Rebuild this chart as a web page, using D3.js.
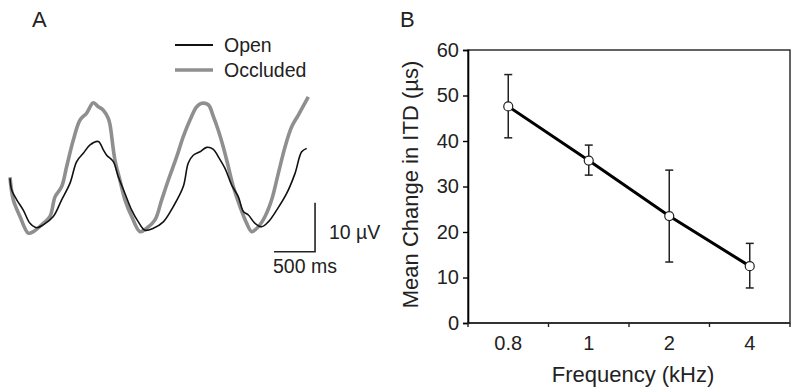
<!DOCTYPE html>
<html>
<head>
<meta charset="utf-8">
<script src="https://cdn.jsdelivr.net/npm/d3@7"></script>
<style>
  body { margin: 0; background: #fff; }
  svg text { font-family: 'Liberation Sans', Arial, sans-serif; fill: #222; }
</style>
</head>
<body>
<div class="canvas"></div>
<script>
// Panel A traces: time (ms) and voltage (µV)
const openT = [0, 21, 82, 162, 244, 326, 406, 528, 630, 732, 813, 894, 976, 1077, 1138, 1179, 1260, 1321, 1402, 1484, 1565, 1646, 1748, 1870, 1991, 2113, 2174, 2235, 2317, 2399, 2480, 2540, 2622, 2704, 2785, 2846, 2907, 2988, 3069, 3150, 3252, 3374, 3476, 3557, 3618]
const openV = [12.6, 10.2, 8.2, 6.1, 3.4, 2.5, 3.1, 4.8, 8.2, 11.6, 16.0, 17.7, 19.4, 20.1, 18.4, 17.3, 16.0, 12.9, 9.5, 6.1, 3.7, 2.0, 2.4, 3.7, 6.8, 10.9, 15.7, 17.3, 18.0, 18.9, 18.5, 17.0, 14.6, 11.2, 8.8, 5.8, 5.1, 3.4, 2.7, 3.7, 6.1, 9.5, 13.6, 18.0, 18.7]
const occT = [0, 40, 122, 223, 284, 406, 488, 549, 630, 691, 772, 854, 935, 1016, 1077, 1138, 1199, 1220, 1280, 1341, 1402, 1484, 1585, 1667, 1768, 1850, 1930, 2033, 2113, 2195, 2277, 2338, 2418, 2480, 2540, 2601, 2662, 2723, 2805, 2887, 2948, 3028, 3110, 3191, 3272, 3354, 3435, 3516, 3638]
const occV = [12.8, 8.2, 4.8, 1.4, 1.7, 3.4, 4.8, 8.8, 10.9, 15.0, 20.4, 24.5, 25.9, 28.0, 27.2, 26.5, 24.8, 23.5, 16.3, 12.2, 8.2, 4.8, 1.7, 2.4, 4.1, 8.2, 12.2, 17.0, 21.1, 24.5, 27.2, 27.9, 27.6, 25.2, 22.4, 19.0, 15.0, 10.9, 6.8, 3.4, 1.7, 2.7, 4.8, 8.2, 13.6, 19.0, 23.1, 25.5, 29.2]
const seriesNames = ['Open', 'Occluded']

// Panel B
const freqs = ['0.8', '1', '2', '4']
const itdMean = [47.6, 35.7, 23.5, 12.5]
const itdHigh = [54.6, 39.1, 33.6, 17.5]
const itdLow = [40.7, 32.5, 13.4, 7.7]
const yTicks = [0, 10, 20, 30, 40, 50, 60]

const svg = d3.select('.canvas')
  .append('svg')
  .attr('width', 800)
  .attr('height', 390)

// ---------- Panel A ----------
const a = svg.append('g')

a.append('text').attr('x', 32).attr('y', 27).attr('font-size', 22).text('A')

const xA = d3.scaleLinear().domain([0, 500]).range([10, 51])
const yA = d3.scaleLinear().domain([0, 10]).range([240, 191])

const lineA = d3.line()
  .x(d => xA(d[0]))
  .y(d => yA(d[1]))
  .curve(d3.curveCatmullRom)

a.append('path')
  .datum(occT.map((t, i) => [t, occV[i]]))
  .attr('d', lineA)
  .attr('fill', 'none')
  .attr('stroke', '#8f8f8f')
  .attr('stroke-width', 3.6)
  .attr('stroke-linejoin', 'round')

a.append('path')
  .datum(openT.map((t, i) => [t, openV[i]]))
  .attr('d', lineA)
  .attr('fill', 'none')
  .attr('stroke', '#111')
  .attr('stroke-width', 1.6)
  .attr('stroke-linejoin', 'round')

// legend
const legend = a.append('g')
seriesNames.forEach((name, i) => {
  const y = 45 + i * 25
  legend.append('line')
    .attr('x1', 175).attr('x2', 213).attr('y1', y).attr('y2', y)
    .attr('stroke', i === 0 ? '#111' : '#8f8f8f')
    .attr('stroke-width', i === 0 ? 1.8 : 3.6)
  legend.append('text')
    .attr('x', 224).attr('y', y + 7)
    .attr('font-size', 19.5)
    .text(name)
})

// scale bar
const bar = a.append('g')
bar.append('path')
  .attr('d', `M${xA(3220)},${yA(0) + 11.7} H${xA(3720)} V${yA(10) + 11.7}`)
  .attr('fill', 'none')
  .attr('stroke', '#222')
  .attr('stroke-width', 1.6)
bar.append('text').attr('x', 329).attr('y', 239).attr('font-size', 19.5).text('10 \u00b5V')
bar.append('text').attr('x', 273).attr('y', 273).attr('font-size', 19.5).text('500 ms')

// ---------- Panel B ----------
const margin = { top: 50, left: 468, right: 10, bottom: 67 }
const w = 800 - margin.left - margin.right
const h = 390 - margin.top - margin.bottom

svg.append('text').attr('x', 400).attr('y', 27).attr('font-size', 22).text('B')

const b = svg.append('g')
  .attr('transform', `translate(${margin.left}, ${margin.top})`)

const x = d3.scaleBand().domain(freqs).range([0, w])
const y = d3.scaleLinear().domain([0, 60]).range([h, 0])

// frame
b.append('rect')
  .attr('width', w).attr('height', h)
  .attr('fill', 'none').attr('stroke', '#222').attr('stroke-width', 1.4)

const yAxis = d3.axisLeft(y).tickValues(yTicks).tickSize(5).tickPadding(4)
const yAxisGroup = b.append('g').call(yAxis)
yAxisGroup.select('.domain').attr('stroke-width', 1.6)
yAxisGroup.selectAll('line').attr('stroke-width', 1.4)
yAxisGroup.selectAll('text').attr('font-size', 20).attr('fill', '#222')
  .attr('font-family', "'Liberation Sans', Arial, sans-serif")

// x ticks sit at band edges, labels at band centres
const xAxisGroup = b.append('g').attr('transform', `translate(0, ${h})`)
xAxisGroup.append('line').attr('x1', 0).attr('x2', w)
  .attr('stroke', '#222').attr('stroke-width', 1.6)
xAxisGroup.selectAll('.edge')
  .data(freqs.concat(['end']))
  .enter().append('line')
  .attr('x1', (d, i) => i * x.step()).attr('x2', (d, i) => i * x.step())
  .attr('y1', 0).attr('y2', 4)
  .attr('stroke', '#222').attr('stroke-width', 1.4)
xAxisGroup.selectAll('.lab')
  .data(freqs)
  .enter().append('text')
  .attr('x', d => x(d) + x.bandwidth() / 2)
  .attr('y', 27)
  .attr('text-anchor', 'middle')
  .attr('font-size', 20)
  .text(d => d)

b.append('text')
  .attr('x', w / 2 + 4).attr('y', h + 59)
  .attr('text-anchor', 'middle')
  .attr('font-size', 22)
  .text('Frequency (kHz)')

b.append('text')
  .attr('transform', `translate(-50, ${h / 2 - 2}) rotate(-90)`)
  .attr('text-anchor', 'middle')
  .attr('font-size', 22)
  .text('Mean Change in ITD (\u00b5s)')

const cx = d => x(d) + x.bandwidth() / 2

// error bars
const err = b.selectAll('.err').data(freqs).enter().append('g')
err.append('line')
  .attr('x1', cx).attr('x2', cx)
  .attr('y1', (d, i) => y(itdHigh[i])).attr('y2', (d, i) => y(itdLow[i]))
  .attr('stroke', '#222').attr('stroke-width', 1.5)
err.append('line')
  .attr('x1', d => cx(d) - 4).attr('x2', d => cx(d) + 4)
  .attr('y1', (d, i) => y(itdHigh[i])).attr('y2', (d, i) => y(itdHigh[i]))
  .attr('stroke', '#222').attr('stroke-width', 1.5)
err.append('line')
  .attr('x1', d => cx(d) - 4).attr('x2', d => cx(d) + 4)
  .attr('y1', (d, i) => y(itdLow[i])).attr('y2', (d, i) => y(itdLow[i]))
  .attr('stroke', '#222').attr('stroke-width', 1.5)

b.append('path')
  .datum(freqs)
  .attr('d', d3.line().x(cx).y((d, i) => y(itdMean[i])))
  .attr('fill', 'none')
  .attr('stroke', '#000')
  .attr('stroke-width', 3)

b.selectAll('circle')
  .data(freqs)
  .enter().append('circle')
  .attr('cx', cx)
  .attr('cy', (d, i) => y(itdMean[i]))
  .attr('r', 4.5)
  .attr('fill', 'white')
  .attr('stroke', '#222')
  .attr('stroke-width', 1.2)
</script>
</body>
</html>
